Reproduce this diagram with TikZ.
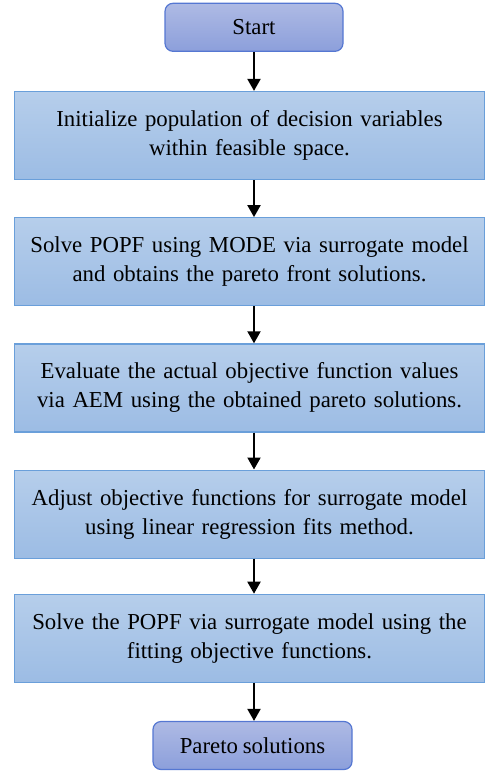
\documentclass[tikz,border=0pt]{standalone}
\usepackage{fontspec}
\setmainfont[WordSpace=0.85]{Liberation Serif}
\usepackage{xcolor}
\usetikzlibrary{arrows.meta,positioning,calc}
\definecolor{boxtop}{HTML}{B6CEEB}
\definecolor{boxbot}{HTML}{9CBCE4}
\definecolor{boxline}{HTML}{6A9FDA}
\definecolor{termtop}{HTML}{AEBAE4}
\definecolor{termbot}{HTML}{8C9FDB}
\definecolor{termline}{HTML}{5577D2}

\begin{document}
\begin{tikzpicture}[
  x=1pt, y=1pt,
  font=\fontsize{22.8}{29}\selectfont,
  stepbox/.style={rectangle, draw=boxline, line width=1.2pt, top color=boxtop, bottom color=boxbot,
             minimum width=470pt, minimum height=88pt, text width=464pt, align=center, inner sep=0pt},
  term/.style={rectangle, draw=termline, line width=1.2pt, top color=termtop, bottom color=termbot,
             rounded corners=8pt, minimum height=48pt, align=center},
  arr/.style={-{Triangle[width=13pt,length=12pt]}, line width=2pt}
]
\useasboundingbox (0,0) rectangle (485,-775);

\node[stepbox] (b1) at (249.5,-135.5) {Initialize population of decision variables\\within feasible space.};
\node[term, minimum width=178pt, above=39pt of b1, xshift=4.5pt] (start) {Start};
\node[stepbox, below=37pt of b1] (b2) {Solve POPF using MODE via surrogate model\\and obtains the pareto front solutions.};
\node[stepbox, below=37pt of b2] (b3) {Evaluate the actual objective function values\\via AEM using the obtained pareto solutions.};
\node[stepbox, below=37pt of b3] (b4) {Adjust objective functions for surrogate model\\using linear regression fits method.};
\node[stepbox, below=35pt of b4] (b5) {Solve the POPF via surrogate model using the\\fitting objective functions.};
\node[term, minimum width=199pt, below=38pt of b5, xshift=3pt] (pareto) {Pareto solutions};

\draw[arr] (start) -- (start |- b1.north);
\foreach \a/\b in {b1/b2, b2/b3, b3/b4, b4/b5, b5/pareto}
  \draw[arr] (\a.south -| start) -- (\b.north -| start);

\end{tikzpicture}
\end{document}
